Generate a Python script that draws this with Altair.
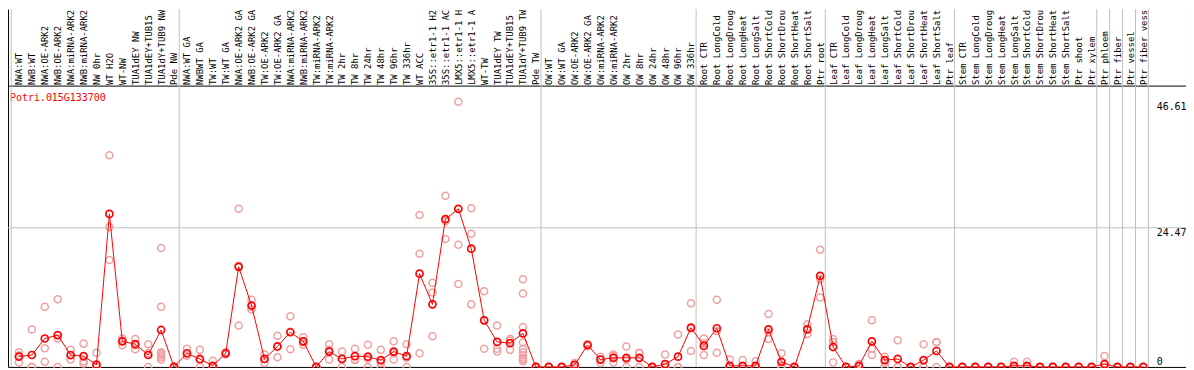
import json
import altair as alt
import pandas as pd

gene = "Potri.015G133700"

# sample labels as they are legible in the reference header (cut at 14 characters)
samples = [
    # group 1
    "NWA:WT", "NWB:WT", "NWA:OE-ARK2", "NWB:OE-ARK2", "NWA:miRNA-ARK2", "NWB:miRNA-ARK2",
    "NW 0hr", "WT H2O", "WT-NW", "TUA1dEY NW", "TUA1dEY+TUB15", "TUA1dY+TUB9 NW", "Pde NW",
    # group 2
    "NWA:WT GA", "NWBWT GA", "TW:WT", "TW:WT GA", "NWA:OE-ARK2 GA", "NWB:OE-ARK2 GA",
    "TW:OE-ARK2", "TW:OE-ARK2 GA", "NWA:miRNA-ARK2", "NWB:miRNA-ARK2", "TW:miRNA-ARK2",
    "TW:miRNA-ARK2", "TW 2hr", "TW 8hr", "TW 24hr", "TW 48hr", "TW 96hr", "TW 336hr",
    "WT ACC", "35S::etr1-1 H2", "35S::etr1-1 AC", "LMX5::etr1-1 H", "LMX5::etr1-1 A",
    "WT-TW", "TUA1dEY TW", "TUA1dEY+TUB15", "TUA1dY+TUB9 TW", "Pde TW",
    # group 3
    "OW:WT", "OW:WT GA", "OW:OE-ARK2", "OW:OE-ARK2 GA", "OW:miRNA-ARK2", "OW:miRNA-ARK2",
    "OW 2hr", "OW 8hr", "OW 24hr", "OW 48hr", "OW 96hr", "OW 336hr",
    # root
    "Root CTR", "Root LongCold", "Root LongDroug", "Root LongHeat", "Root LongSalt",
    "Root ShortCold", "Root ShortDrou", "Root ShortHeat", "Root ShortSalt", "Ptr root",
    # leaf
    "Leaf CTR", "Leaf LongCold", "Leaf LongDroug", "Leaf LongHeat", "Leaf LongSalt",
    "Leaf ShortCold", "Leaf ShortDrou", "Leaf ShortHeat", "Leaf ShortSalt", "Ptr leaf",
    # stem
    "Stem CTR", "Stem LongCold", "Stem LongDroug", "Stem LongHeat", "Stem LongSalt",
    "Stem ShortCold", "Stem ShortDrou", "Stem ShortHeat", "Stem ShortSalt", "Ptr shoot",
    "Ptr xylem",
    # tissues
    "Ptr phloem", "Ptr fiber", "Ptr vessel", "Ptr fiber vess",
]

# index of first sample of each group (plus the end)
group_starts = [0, 13, 41, 53, 63, 73, 84, 85, 86, 87, 88]

means = [
    1.8, 2.1, 5.0, 5.6, 2.1, 1.9, 0.4, 26.9, 4.5, 4.0, 2.1, 6.5, 0.0,
    2.4, 1.4, 0.2, 2.4, 17.6, 10.8, 1.4, 3.6, 6.1, 4.5, 0.0, 2.7, 1.4, 1.9,
    1.8, 1.2, 2.7, 1.9, 16.4, 11.0, 26.0, 27.8, 20.8, 8.2, 4.4, 4.2, 5.9, 0.0,
    0.0, 0.0, 0.35, 3.85, 1.3, 1.6, 1.6, 1.6, 0.0, 0.5, 1.8, 6.9,
    3.7, 6.8, 0.2, 0.2, 0.2, 6.6, 0.9, 0.0, 6.6, 16.0,
    3.5, 0.0, 0.2, 4.5, 1.2, 1.4, 0.0, 1.2, 2.8, 0.0,
    0.0, 0.0, 0.0, 0.0, 0.2, 0.2, 0.0, 0.0, 0.0, 0.0, 0.0,
    0.5, 0.0, 0.0, 0.0,
]

replicates = [
    [2.6, 2.0, 0.8], [6.6, 0, 0], [10.6, 3.3, 0.9], [11.9, 5.0, 0], [3.0, 2.0, 1.3],
    [4.1, 1.0, 0.6], [2.5, 0, 0], [37.2, 24.6, 18.8], [5.0, 4.6, 3.8], [4.9, 3.8, 3.1],
    [4.0, 2.4, 0], [20.9, 10.6, 2.6, 2.3, 2.0, 1.7, 1.3], [0, 0, 0],
    [3.2, 2.0, 2.0], [3.0, 1.2, 0], [1.1, 0, 0], [2.6, 2.4, 2.2], [27.8, 17.8, 7.3],
    [11.8, 10.6, 10.1], [2.2, 1.4, 0.7], [5.5, 3.6, 1.7], [8.9, 6.2, 3.1], [5.2, 4.4, 3.9],
    [0, 0, 0], [4.0, 3.0, 1.3], [2.7, 1.5, 0], [3.2, 1.3, 1.2], [3.9, 1.5, 0],
    [3.0, 0.7, 0], [4.5, 2.4, 1.3], [4.0, 1.6, 0], [26.7, 19.9, 2.4], [14.8, 13.1, 5.4],
    [30.1, 25.6, 22.5], [46.61, 21.5, 14.6], [27.9, 23.4, 11.0], [13.3, 8.2, 3.2],
    [7.3, 3.2, 2.7], [4.9, 4.6, 3.0],
    [15.4, 12.9, 7.0, 4.3, 3.2, 2.6, 2.0, 1.6, 1.3, 1.0], [0, 0, 0],
    [0, 0, 0], [0, 0, 0], [0.7, 0.35, 0], [4.0, 3.8, 3.7], [1.8, 1.3, 0.7],
    [2.2, 1.9, 0.8], [3.6, 1.3, 0], [2.5, 2.4, 0], [0, 0, 0], [2.2, 0, 0],
    [5.7, 0, 0], [11.2, 6.8, 2.8],
    [5.0, 4.1, 2.1], [11.8, 6.3, 2.5], [1.3, 0, 0], [1.2, 0, 0], [1.0, 0, 0],
    [9.3, 6.1, 4.9], [2.4, 0.2, 0], [0, 0, 0], [7.5, 6.6, 5.8], [20.6, 15.4, 12.2],
    [4.9, 4.4, 0.8], [0, 0, 0], [0.5, 0.1, 0], [8.2, 3.2, 2.1], [1.8, 0.8, 0.2],
    [4.7, 0, 0], [0, 0, 0], [4.0, 0, 0], [4.4, 4.3, 0], [0, 0, 0],
    [0, 0, 0], [0, 0, 0], [0, 0, 0], [0, 0, 0], [0.9, 0, 0], [0.9, 0, 0],
    [0, 0, 0], [0, 0, 0], [0, 0, 0], [0, 0, 0], [0, 0, 0],
    [1.9, 0, 0], [0, 0, 0], [0, 0, 0], [0, 0, 0],
]

y_ticks = [0, 24.47, 46.61]
y_grid = [24.47]

FONT = "DejaVu Sans Mono"
RED = "#ff0000"
PINK = "#f0a0a0"
GRID = "#c0c0c0"

W, H = 1185, 360

idx = list(range(len(samples)))
mean_df = pd.DataFrame({"i": idx, "sample": samples, "mean": means})
rep_df = pd.DataFrame(
    [{"i": i, "value": v} for i, reps in enumerate(replicates) for v in reps]
)
bounds_df = pd.DataFrame({"start": group_starts})
grid_df = pd.DataFrame({"v": y_grid})

x_scale = alt.Scale(domain=[-11 / 13, (W - 11) / 13], nice=False, zero=False)
y_scale = alt.Scale(domain=[0, 62.92], nice=False, zero=True)

top_axis = alt.Axis(
    orient="top", offset=-77, values=idx,
    labelExpr=json.dumps(samples) + "[datum.value]",
    labelAngle=270, labelAlign="left", labelBaseline="middle", labelPadding=1,
    ticks=False, tickSize=0, grid=False, domain=True, domainColor="black",
    labelFont=FONT, labelFontSize=9, labelColor="black",
    labelOverlap=False, labelFlush=False, title=None,
)
right_axis = alt.Axis(
    orient="right", values=y_ticks, format=".2~f",
    labelPadding=-30, labelAlign="left",
    labelBaseline={"condition": {"test": "datum.value == 0", "value": "bottom"}, "value": "top"},
    ticks=False, tickSize=0, grid=False, domain=True, domainColor="black",
    labelFont=FONT, labelFontSize=10, labelColor="black",
    labelOverlap=False, labelFlush=False, title=None,
)
bottom_axis = alt.Axis(
    orient="bottom", labels=False, ticks=False, grid=False,
    domain=True, domainColor="black", title=None,
)
left_axis = alt.Axis(
    orient="left", labels=False, ticks=False, grid=False,
    domain=True, domainColor="black",
    title=gene, titleAngle=0, titleAlign="left", titleBaseline="top",
    titleX=1.5, titleY=84, titleColor=RED, titleFont=FONT,
    titleFontSize=10, titleFontWeight="normal",
)

vrules = (
    alt.Chart(bounds_df)
    .transform_calculate(xb="datum.start - 0.6")
    .mark_rule(color=GRID, strokeWidth=1)
    .encode(x=alt.X("xb:Q", scale=x_scale, axis=None))
)
hrule = (
    alt.Chart(grid_df)
    .mark_rule(color=GRID, strokeWidth=1)
    .encode(y=alt.Y("v:Q", scale=y_scale, axis=None))
)
reps = (
    alt.Chart(rep_df)
    .mark_point(shape="circle", filled=False, color=PINK, size=50, strokeWidth=1.5, opacity=1)
    .encode(
        x=alt.X("i:Q", scale=x_scale, axis=top_axis),
        y=alt.Y("value:Q", scale=y_scale, axis=right_axis),
    )
)
line = (
    alt.Chart(mean_df)
    .mark_line(color=RED, strokeWidth=1)
    .encode(
        x=alt.X("i:Q", scale=x_scale, axis=bottom_axis),
        y=alt.Y("mean:Q", scale=y_scale, axis=left_axis),
    )
)
mean_pts = (
    alt.Chart(mean_df)
    .mark_point(shape="circle", filled=False, color=RED, size=50, strokeWidth=1.7, opacity=1)
    .encode(
        x=alt.X("i:Q", scale=x_scale, axis=None),
        y=alt.Y("mean:Q", scale=y_scale, axis=None),
    )
)

chart = (
    alt.layer(vrules, hrule, reps, line, mean_pts)
    .resolve_axis(x="independent", y="independent")
    .properties(width=W, height=H, autosize=alt.AutoSizeParams(type="none"), padding=0)
    .configure_view(stroke=None)
)

chart.save("out.html", embed_options={"renderer": "svg", "actions": False})
